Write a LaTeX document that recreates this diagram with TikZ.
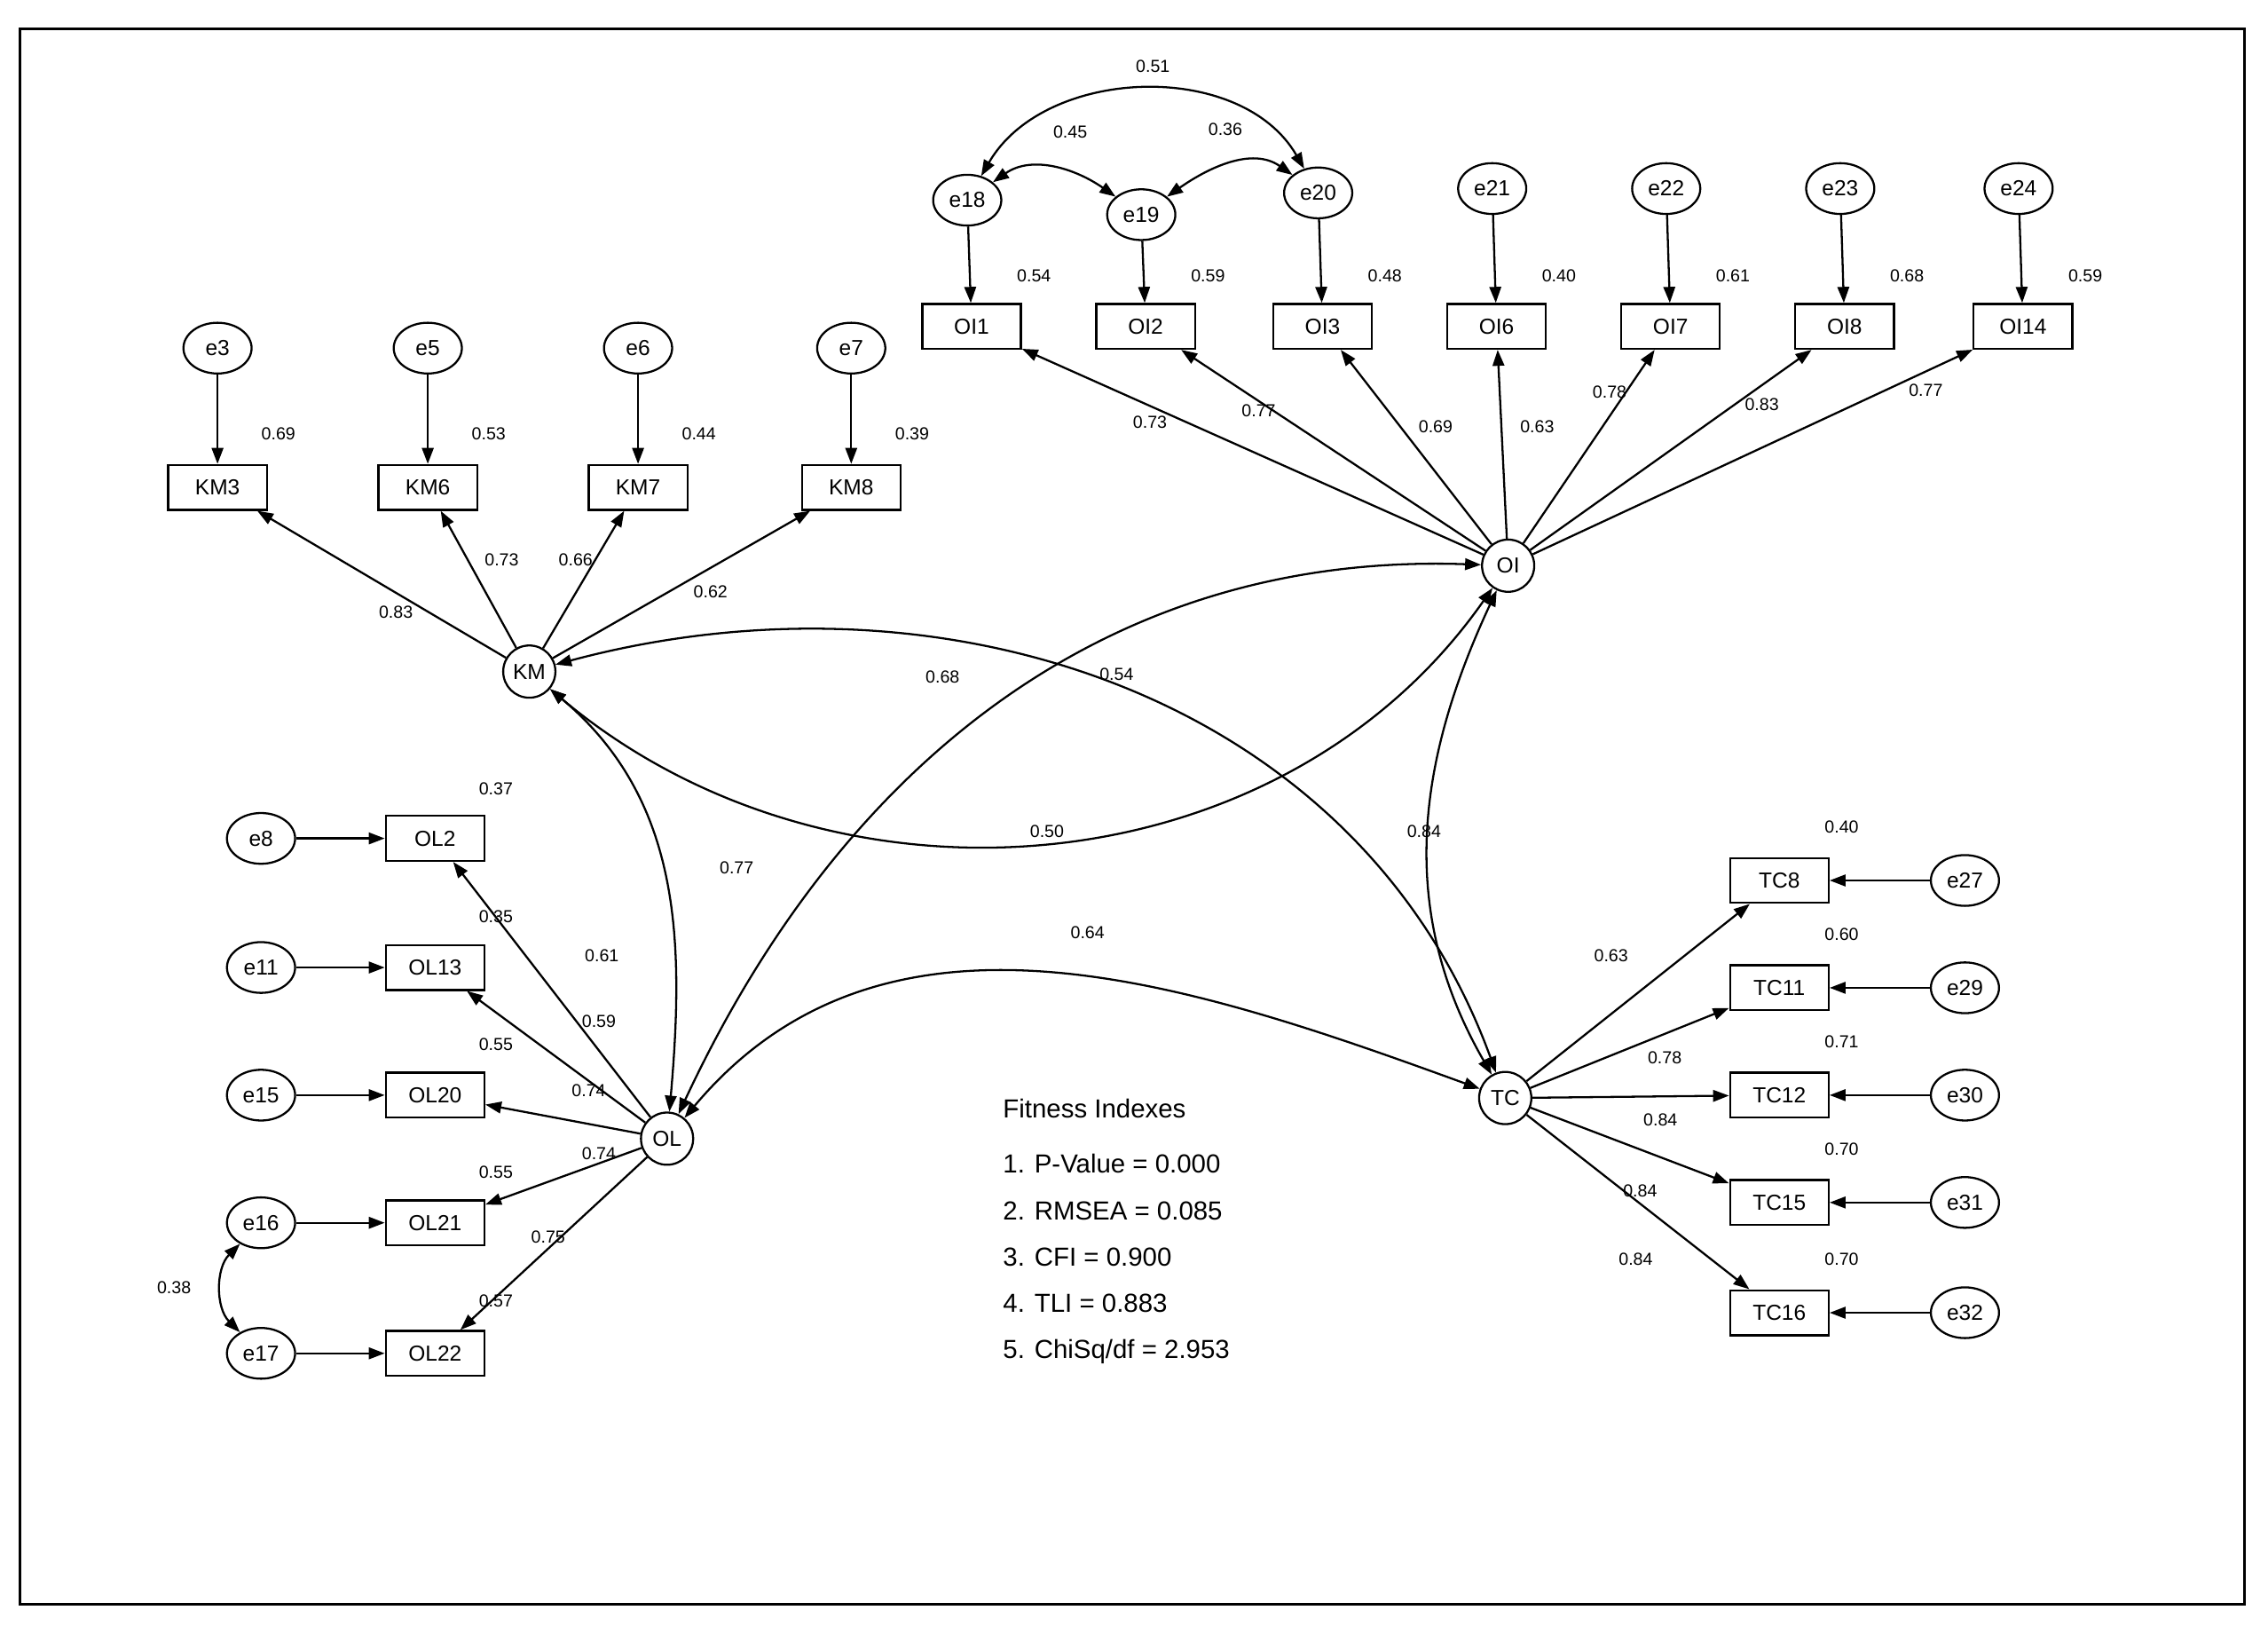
\documentclass[tikz,border=0pt]{standalone}
\usepackage{fontspec}
\setmainfont{Liberation Sans}
\usetikzlibrary{shapes.geometric,arrows.meta}
\begin{document}
\begin{tikzpicture}[x=1pt,y=1pt,
  every path/.style={line width=1.4pt},
  ar/.style={-{Triangle[length=11pt,width=8pt]}},
  dar/.style={{Triangle[length=11pt,width=8pt]}-{Triangle[length=11pt,width=8pt]}},
  lat/.style={circle,draw,minimum size=36pt,inner sep=0pt,font=\fontsize{15}{17}\selectfont},
  obs/.style={rectangle,draw,minimum width=68pt,minimum height=31pt,inner sep=0pt,font=\fontsize{15}{17}\selectfont},
  err/.style={ellipse,draw,minimum width=47pt,minimum height=35pt,inner sep=0pt,font=\fontsize{15}{17}\selectfont},
  lb/.style={font=\fontsize{12}{14}\selectfont,inner sep=0pt}]
\useasboundingbox (0,0) rectangle (1564,-1126);
\draw[line width=1.8pt] (14,-20) rectangle (1548,-1106);
% KM
\node[lat] (KM) at (365,-463) {KM};
\foreach \n/\x/\e/\r in {KM3/150/e3/0.69,KM6/295/e5/0.53,KM7/440/e6/0.44,KM8/587/e7/0.39}{
  \node[obs] (\n) at (\x,-336) {\n};
  \node[err] (\e) at (\x,-240) {\e};
  \draw[ar] (\e) -- (\n);
  \node[lb] (r\n) at (\x+42,-299) {\r};
}
\foreach \n in {KM3,KM6,KM7,KM8}{\draw[ar] (KM) -- (\n);}
\node[lb] (lKM3) at (273,-422) {0.83};
\node[lb] (lKM6) at (346,-386) {0.73};
\node[lb] (lKM7) at (397,-386) {0.66};
\node[lb] (lKM8) at (490,-408) {0.62};
% OI
\node[lat] (OI) at (1040,-390) {OI};
\foreach \n/\lab/\x/\e/\ey/\r in {OI1/OI1/670/e18/138/0.54,OI2/OI2/790/e19/148/0.59,OI3/OI3/912/e20/133/0.48,OI6/OI6/1032/e21/130/0.40,OI7/OI7/1152/e22/130/0.61,OI8/OI8/1272/e23/130/0.68,OI14/OI14/1395/e24/130/0.59}{
  \node[obs] (\n) at (\x,-225) {\lab};
  \node[err] (\e) at (\x-3,-\ey) {\e};
  \draw[ar] (\e) -- (\n);
  \node[lb] (r\n) at (\x+43,-190) {\r};
  \draw[ar] (OI) -- (\n);
}
\node[lb] (lOI1) at (793,-291) {0.73};
\node[lb] (lOI2) at (868,-283) {0.77};
\node[lb] (lOI3) at (990,-294) {0.69};
\node[lb] (lOI6) at (1060,-294) {0.63};
\node[lb] (lOI7) at (1110,-270) {0.78};
\node[lb] (lOI8) at (1215,-279) {0.83};
\node[lb] (lOI14) at (1328,-269) {0.77};
\draw[dar] (e18) to[out=60,in=120] (e20);
\draw[dar] (e18) to[out=35,in=145] (e19);
\draw[dar] (e19) to[out=35,in=145] (e20);
\node[lb] (c51) at (795,-46) {0.51};
\node[lb] (c45) at (738,-91) {0.45};
\node[lb] (c36) at (845,-89) {0.36};
% OL
\node[lat] (OL) at (460,-785) {OL};
\foreach \n/\y/\e/\r in {OL2/578/e8/0.37,OL13/667/e11/0.35,OL20/755/e15/0.55,OL21/843/e16/0.55,OL22/933/e17/0.57}{
  \node[obs] (\n) at (300,-\y) {\n};
  \node[err] (\e) at (180,-\y) {\e};
  \draw[ar] (\e) -- (\n);
  \draw[ar] (OL) -- (\n);
}
\node[lb] (rOL2) at (342,-544) {0.37};
\node[lb] (rOL13) at (342,-632) {0.35};
\node[lb] (rOL20) at (342,-720) {0.55};
\node[lb] (rOL21) at (342,-808) {0.55};
\node[lb] (rOL22) at (342,-897) {0.57};
\node[lb] (lOL2) at (415,-659) {0.61};
\node[lb] (lOL13) at (413,-704) {0.59};
\node[lb] (lOL20) at (406,-752) {0.74};
\node[lb] (lOL21) at (413,-795) {0.74};
\node[lb] (lOL22) at (378,-853) {0.75};
\draw[dar] (e16) to[out=-135,in=135] (e17);
\node[lb] (c38) at (120,-888) {0.38};
% TC
\node[lat] (TC) at (1038,-757) {TC};
\foreach \n/\y/\e/\r in {TC8/607/e27/0.40,TC11/681/e29/0.60,TC12/755/e30/0.71,TC15/829/e31/0.70,TC16/905/e32/0.70}{
  \node[obs] (\n) at (1227,-\y) {\n};
  \node[err] (\e) at (1355,-\y) {\e};
  \draw[ar] (\e) -- (\n);
  \draw[ar] (TC) -- (\n);
  \node[lb] (r\n) at (1270,-\y+37) {\r};
}
\node[lb] (lTC8) at (1111,-659) {0.63};
\node[lb] (lTC12) at (1148,-729) {0.78};
\node[lb] (lTC15) at (1145,-772) {0.84};
\node[lb] (lTC16a) at (1131,-821) {0.84};
\node[lb] (lTC16) at (1128,-868) {0.84};
% covariances
\draw[dar] (KM) to[out=-40,in=-125] (OI);
\draw[dar] (KM) to[out=15,in=110] (TC);
\draw[dar] (KM) to[out=-40,in=85] (OL);
\draw[dar] (OI) to[out=178,in=65] (OL);
\draw[dar] (OI) to[out=-115,in=120] (TC);
\draw[dar] (OL) to[out=50,in=160] (TC);
\node[lb] (c50) at (722,-573) {0.50};
\node[lb] (c54) at (770,-465) {0.54};
\node[lb] (c77) at (508,-598) {0.77};
\node[lb] (c68) at (650,-467) {0.68};
\node[lb] (c84) at (982,-573) {0.84};
\node[lb] (c64) at (750,-643) {0.64};
% fitness
\node[anchor=north west,align=left,inner sep=0pt,font=\fontsize{18}{32}\selectfont] (fit) at (691,-757)
 {Fitness Indexes\\[6pt]1. P-Value = 0.000\\2. RMSEA = 0.085\\3. CFI = 0.900\\4. TLI = 0.883\\5. ChiSq/df = 2.953};
\end{tikzpicture}
\end{document}
